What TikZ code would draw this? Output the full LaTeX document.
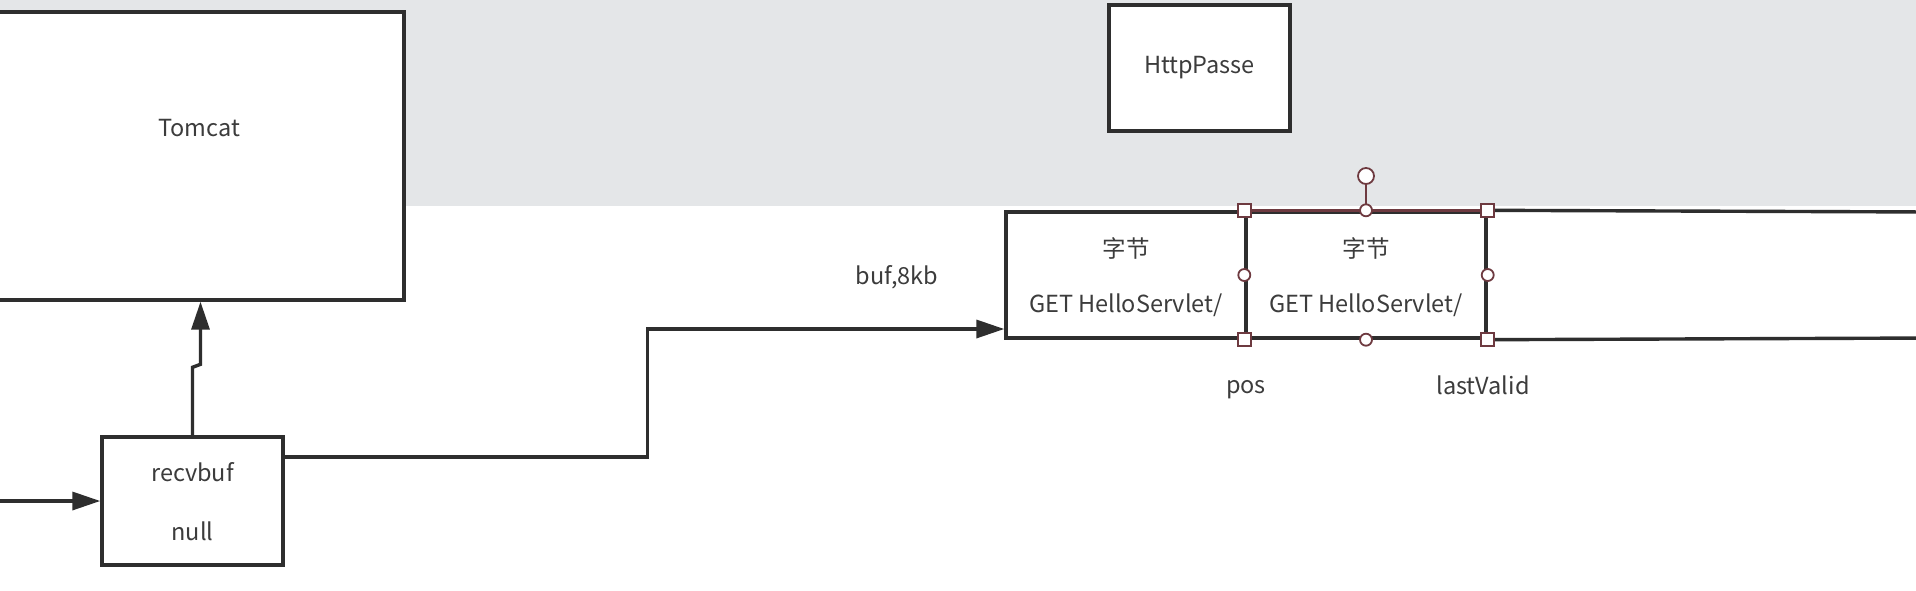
\documentclass[tikz,border=0pt]{standalone}
\usepackage{fontspec}
\setmainfont{Noto Sans CJK SC}
\usetikzlibrary{arrows.meta}
\definecolor{bandgray}{HTML}{E4E6E8}
\definecolor{ink}{HTML}{2E2E2E}
\definecolor{txt}{HTML}{3C3C3C}
\definecolor{selred}{HTML}{6E3A40}
\begin{document}
\begin{tikzpicture}[x=1pt,y=-1pt,
  box/.style={draw=ink, fill=white, line width=3.4pt, inner sep=0pt},
  lbl/.style={text=txt, font=\fontsize{23.5}{28}\selectfont, inner sep=0pt},
  conn/.style={draw=ink, line width=3.4pt, -{Triangle[length=28pt,width=18pt]}},
  hsq/.style={draw=selred, fill=white, line width=1.8pt, minimum size=13pt, inner sep=0pt},
  hci/.style={draw=selred, fill=white, line width=1.8pt, circle, minimum size=12pt, inner sep=0pt}]
\useasboundingbox (0,0) rectangle (1916,590);
\fill[white] (0,0) rectangle (1916,590);
\fill[bandgray] (0,0) rectangle (1916,206);
% boxes
\node[box, minimum width=410pt, minimum height=288pt] (tomcat) at (199,156) {};
\node[lbl] (tomcatlbl) at ([yshift=28pt]tomcat.center) {Tomcat};
\node[box, minimum width=181pt, minimum height=126pt, lbl] (http) at (1199.5,68) {HttpPasse};
\node[box, minimum width=181pt, minimum height=128pt] (recv) at (192.5,501) {};
\node[lbl] (recvlbl) at ([yshift=29pt]recv.center) {recvbuf};
\node[lbl] (nulllbl) at ([yshift=-30pt]recv.center) {null};
% buffer
\node[box, minimum width=240pt, minimum height=126pt] (cell1) at (1126,275) {};
\node[box, minimum width=240pt, minimum height=126pt] (cell2) at (1366,275) {};
\coordinate (rtop) at (1930,212);
\coordinate (rbot) at (1930,338);
\draw[ink, line width=3.4pt] (cell2.north east) -- (rtop);
\draw[ink, line width=3.4pt] (cell2.south east) -- (rbot);
\draw[selred, line width=3.2pt] (cell2.north west) -- (cell2.north east);
\node[lbl] (z1) at ([yshift=27pt]cell1.center) {字节};
\node[lbl] (g1) at ([yshift=-30pt]cell1.center) {GET HelloServlet/};
\node[lbl] (z2) at ([yshift=27pt]cell2.center) {字节};
\node[lbl] (g2) at ([yshift=-30pt]cell2.center) {GET HelloServlet/};
\node[lbl] (buflbl) at (897,277) {buf,8kb};
\node[lbl] (poslbl) at (1246,390) {pos};
\node[lbl] (lvlbl) at (1483,385) {lastValid};
% selection handles
\node[hci, minimum size=16pt] (rot) at (1366,176) {};
\draw[selred, line width=2.2pt] (rot) -- (cell2.north);
\foreach \a in {north west, north east, south west, south east}
  \node[hsq] at (cell2.\a) {};
\foreach \a in {north, south, west, east}
  \node[hci] at (cell2.\a) {};
% connectors
\coordinate (in) at (-5,501);
\draw[conn] (in) -- (recv.west);
\draw[conn] (recv.north) -- ++(0,-68) -- ++(8,-3) coordinate (j) -- (j |- tomcat.south);
\draw[conn] ([yshift=44pt]recv.east) -| ++(363,-128) -- ([yshift=-54pt]cell1.west);
\end{tikzpicture}
\end{document}
